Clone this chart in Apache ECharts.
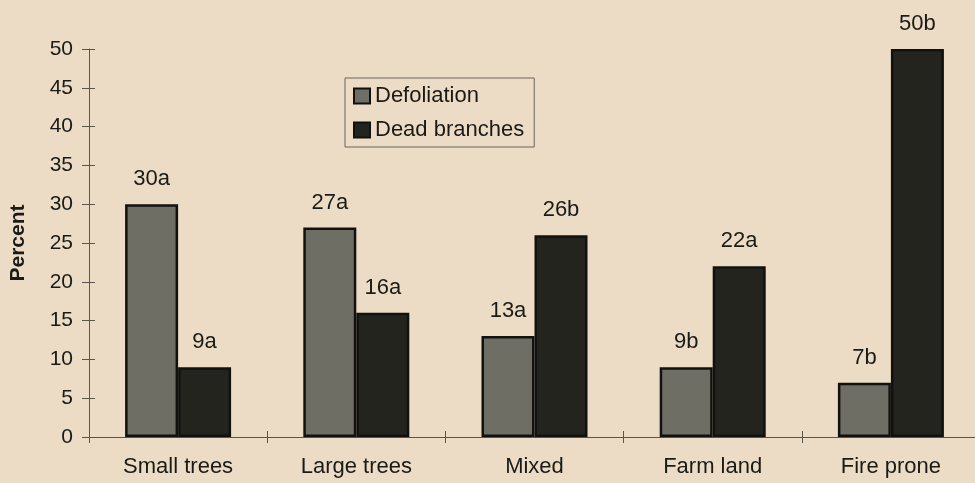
<!DOCTYPE html>
<html>
<head>
<meta charset="utf-8">
<script src="https://cdn.jsdelivr.net/npm/echarts@6/dist/echarts.min.js"></script>
<style>
  html, body { margin: 0; padding: 0; background: #ecdcc6; }
  #chart { width: 975px; height: 483px; }
</style>
</head>
<body>
<div id="chart"></div>
<script>
// Crown condition by site type
const categories = ['Small trees', 'Large trees', 'Mixed', 'Farm land', 'Fire prone'];
const defoliation = [30, 27, 13, 9, 7];
const deadBranches = [9, 16, 26, 22, 50];
const defoliationLetters = ['a', 'a', 'a', 'b', 'b'];
const deadBranchesLetters = ['a', 'a', 'b', 'a', 'b'];
const yTicks = [0, 5, 10, 15, 20, 25, 30, 35, 40, 45, 50];

const font = 'Liberation Sans, Arial, sans-serif';
const axisColor = '#5a544a';
const textColor = '#1a1a16';

const chart = echarts.init(document.getElementById('chart'));

function labelFor(letters) {
  return {
    show: true,
    position: 'top',
    distance: 14,
    fontFamily: font,
    fontSize: 22,
    color: textColor,
    formatter: p => p.value + letters[p.dataIndex]
  };
}

const option = {
  backgroundColor: '#ecdcc6',
  animation: false,
  grid: { left: 89, right: -5, top: 49, bottom: 46, containLabel: false, outerBoundsMode: 'none' },
  legend: {
    orient: 'vertical',
    left: 345,
    top: 78,
    padding: [7, 10, 6, 8],
    itemGap: 12,
    itemWidth: 16,
    itemHeight: 15,
    borderColor: '#6a6458',
    borderWidth: 1,
    textStyle: { fontFamily: font, fontSize: 22, color: textColor },
    data: [
      { name: 'Defoliation', icon: 'rect' },
      { name: 'Dead branches', icon: 'rect' }
    ]
  },
  xAxis: [
    {
      type: 'category',
      data: categories,
      axisLine: { lineStyle: { color: axisColor, width: 1 } },
      axisTick: { show: true, length: 6, lineStyle: { color: axisColor } },
      axisLabel: { fontFamily: font, fontSize: 22, color: textColor, margin: 19 }
    },
    {
      type: 'category',
      data: categories,
      position: 'bottom',
      axisLine: { show: false },
      axisTick: { show: true, inside: true, length: 6, lineStyle: { color: axisColor } },
      axisLabel: { show: false }
    }
  ],
  yAxis: [
    {
      type: 'value',
      min: yTicks[0],
      max: yTicks[yTicks.length - 1],
      interval: 5,
      name: 'Percent',
      nameLocation: 'middle',
      nameGap: 60,
      nameTextStyle: { fontFamily: font, fontSize: 21, fontWeight: 'bold', color: textColor },
      axisLine: { show: true, lineStyle: { color: axisColor, width: 1 } },
      axisTick: { show: true, length: 7, lineStyle: { color: axisColor } },
      axisLabel: { fontFamily: font, fontSize: 21, color: textColor, margin: 16 },
      splitLine: { show: false }
    },
    {
      type: 'value',
      position: 'left',
      min: yTicks[0],
      max: yTicks[yTicks.length - 1],
      interval: 5,
      axisLine: { show: false },
      axisTick: { show: true, inside: true, length: 6, lineStyle: { color: axisColor } },
      axisLabel: { show: false },
      splitLine: { show: false }
    }
  ],
  series: [
    {
      name: 'Defoliation',
      type: 'bar',
      data: defoliation,
      barWidth: 53,
      barGap: '0%',
      itemStyle: { color: '#6e6e64', borderColor: '#111110', borderWidth: 2.5 },
      label: labelFor(defoliationLetters)
    },
    {
      name: 'Dead branches',
      type: 'bar',
      data: deadBranches,
      barWidth: 53,
      barGap: '0%',
      itemStyle: { color: '#24241f', borderColor: '#111110', borderWidth: 2.5 },
      label: labelFor(deadBranchesLetters)
    }
  ]
};

chart.setOption(option);
</script>
</body>
</html>
